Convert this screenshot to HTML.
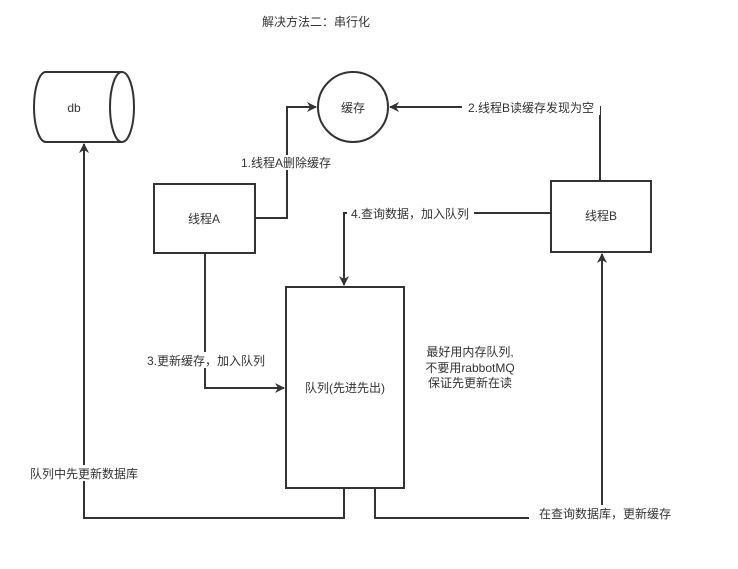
<!DOCTYPE html>
<html><head><meta charset="utf-8"><style>
body{margin:0;background:#fff}
svg text{font-family:"Liberation Sans","Noto Sans CJK SC",sans-serif;font-size:12px;fill:#333}
</style></head><body>
<svg width="738" height="564" viewBox="0 0 738 564" xmlns="http://www.w3.org/2000/svg">
<defs><marker id="a" markerWidth="10" markerHeight="10" refX="9" refY="5" orient="auto" markerUnits="userSpaceOnUse"><path d="M0,0 L10,5 L0,10 L3,5 Z" fill="#333"/></marker></defs>
<g fill="none" stroke="#333" stroke-width="2">
<path d="M46,72 L122,72 A12,35 0 0 1 122,142 L46,142 A12,35 0 0 1 46,72 Z" fill="#fff"/>
<path d="M122,72 A12,35 0 0 0 122,142"/>
<circle cx="353" cy="107" r="35" fill="#fff"/>
<rect x="154" y="184" width="101" height="69" fill="#fff"/>
<rect x="551" y="181" width="100" height="71" fill="#fff"/>
<rect x="286" y="287" width="118" height="201" fill="#fff"/>
<polyline points="255,218 287,218 287,107 316,107" marker-end="url(#a)"/>
<polyline points="600,181 600,107 390,107" marker-end="url(#a)"/>
<polyline points="551,213 344,213 344,285" marker-end="url(#a)"/>
<polyline points="205,253 205,388 284,388" marker-end="url(#a)"/>
<polyline points="344,488 344,518 84,518 84,144" marker-end="url(#a)"/>
<polyline points="375,488 375,518 602,518 602,254" marker-end="url(#a)"/>
</g>
<text x="316" y="26" text-anchor="middle">解决方法二：串行化</text>
<text x="74" y="112" text-anchor="middle">db</text>
<text x="353" y="112" text-anchor="middle">缓存</text>
<text x="204" y="223" text-anchor="middle">线程A</text>
<text x="601" y="220" text-anchor="middle">线程B</text>
<text x="345" y="392" text-anchor="middle">队列(先进先出)</text>
<rect x="236" y="155" width="100" height="15" fill="#fff"/>
<text x="286" y="167" text-anchor="middle">1.线程A删除缓存</text>
<rect x="462" y="99" width="138" height="16" fill="#fff"/>
<text x="531" y="112" text-anchor="middle">2.线程B读缓存发现为空</text>
<rect x="347" y="205" width="127" height="16" fill="#fff"/>
<text x="410" y="218" text-anchor="middle">4.查询数据，加入队列</text>
<rect x="142" y="352" width="128" height="16" fill="#fff"/>
<text x="206" y="365" text-anchor="middle">3.更新缓存，加入队列</text>
<rect x="25" y="465" width="118" height="16" fill="#fff"/>
<text x="84" y="478" text-anchor="middle">队列中先更新数据库</text>
<rect x="529" y="505" width="152" height="16" fill="#fff"/>
<text x="605" y="518" text-anchor="middle">在查询数据库，更新缓存</text>
<text x="470" y="356" text-anchor="middle">最好用内存队列,</text>
<text x="470" y="372" text-anchor="middle">不要用rabbotMQ</text>
<text x="470" y="387" text-anchor="middle">保证先更新在读</text>
</svg>
</body></html>
